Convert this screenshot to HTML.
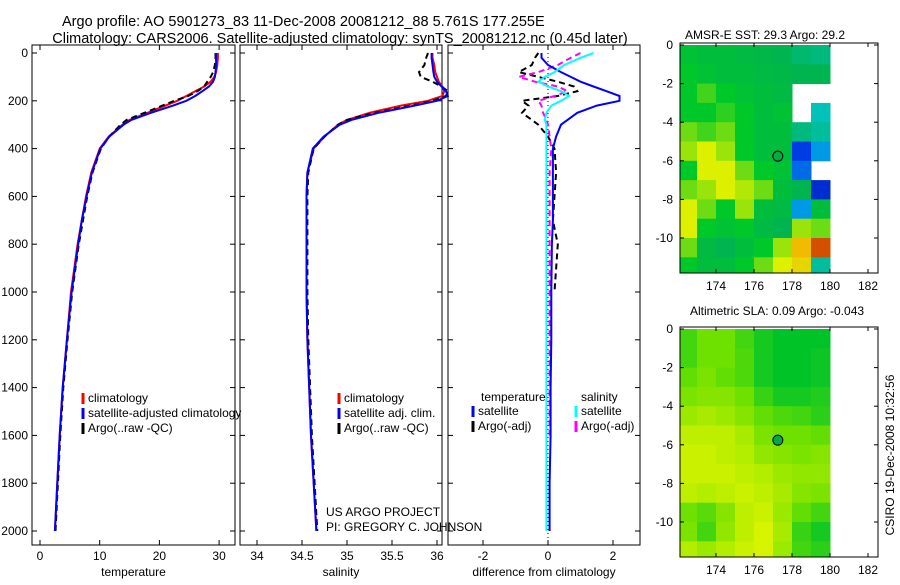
<!DOCTYPE html>
<html><head><meta charset="utf-8">
<style>
body{margin:0;background:#fff;width:900px;height:580px;overflow:hidden;font-family:"Liberation Sans",sans-serif}
svg text{font-family:"Liberation Sans",sans-serif;font-size:12px;fill:#000}
</style></head><body>
<svg id="fig" width="900" height="580" viewBox="0 0 900 580" xmlns="http://www.w3.org/2000/svg">
<text x="62" y="26" font-size="14.5" style="font-size:14.5px">Argo profile: AO 5901273_83 11-Dec-2008 20081212_88 5.761S 177.255E</text>
<text x="340" y="43" text-anchor="middle" style="font-size:14.5px">Climatology: CARS2006. Satellite-adjusted climatology: synTS_20081212.nc (0.45d later)</text>
<g id="p1"></g>
<g id="p2"></g>
<g id="p3"></g>
<g id="m1"></g>
<g id="m2"></g>
<text x="765" y="39" text-anchor="middle">AMSR-E SST: 29.3 Argo: 29.2</text>
<text x="777" y="315" text-anchor="middle">Altimetric SLA: 0.09 Argo: -0.043</text>
<text transform="translate(894,455) rotate(-90)" text-anchor="middle">CSIRO 19-Dec-2008 10:32:56</text>
<text x="326" y="516">US ARGO PROJECT</text>
<text x="326" y="531">PI: GREGORY C. JOHNSON</text>
</svg>
<script>
// depth levels (m)
const depths = [0,20,50,80,100,120,140,160,180,200,220,250,280,300,350,400,500,600,700,800,1000,1200,1400,1600,1800,2000];
const tempClim = [29.8,29.8,29.7,29.5,29.2,28.6,27.5,26.0,24.5,23.0,21.0,18.0,15.0,13.8,11.5,10.0,8.6,7.7,7.0,6.3,5.2,4.5,3.8,3.3,2.9,2.5];
const tempSat  = [29.5,29.5,29.5,29.4,29.3,29.0,28.3,27.2,26.0,24.5,22.3,18.6,15.3,14.0,11.6,10.1,8.7,7.8,7.0,6.4,5.3,4.5,3.8,3.3,2.9,2.5];
const tempArgo = [29.4,29.4,29.3,29.0,28.6,28.0,27.5,26.4,24.8,22.5,20.5,17.5,14.5,13.5,11.6,10.2,8.8,7.9,7.2,6.5,5.4,4.6,3.9,3.4,3.0,2.6];
const salClim = [35.95,35.95,35.97,35.98,36.0,36.02,36.06,36.08,36.06,35.9,35.6,35.25,35.0,34.9,34.75,34.63,34.56,34.55,34.55,34.55,34.55,34.56,34.58,34.6,34.63,34.66];
const salSat  = [35.94,35.94,35.95,35.96,35.97,36.0,36.05,36.1,36.12,36.0,35.75,35.35,35.05,34.92,34.74,34.62,34.56,34.55,34.55,34.55,34.55,34.56,34.58,34.6,34.63,34.66];
const salArgo = [35.9,35.88,35.86,35.8,35.82,35.95,36.05,36.12,36.1,35.95,35.7,35.3,35.0,34.9,34.75,34.63,34.57,34.56,34.56,34.56,34.56,34.57,34.59,34.61,34.64,34.67];
const diffTempSat  = [-0.2,-0.2,0.0,0.4,0.7,1.0,1.4,1.8,2.2,2.2,1.5,0.9,0.6,0.4,0.25,0.15,0.15,0.15,0.15,0.12,0.1,0.1,0.08,0.08,0.05,0.05];
const diffSalSat   = [1.4,1.0,0.5,0.2,-0.1,-0.3,0.0,0.4,0.65,0.4,0.1,-0.05,-0.1,-0.05,-0.05,-0.05,-0.05,-0.05,-0.05,-0.05,-0.05,-0.05,-0.05,-0.05,-0.05,-0.05];
const diffTempArgo = [-0.3,-0.4,-0.5,-0.9,-0.3,0.3,0.8,0.9,0.3,-0.8,-0.6,-0.8,-0.5,-0.3,0.0,0.2,0.25,0.2,0.15,0.3,0.2,null,null,null,null,null];
const diffSalArgo  = [1.0,0.7,0.3,-0.3,-0.9,-0.4,0.3,0.6,0.2,-0.3,-0.2,-0.15,-0.05,0.0,0.05,0.1,0.05,0.05,0.05,0.05,0.05,0.05,0.05,0.05,null,null];
const tempTicks = [0,10,20,30];
const salTicks = [34,34.5,35,35.5,36];
const diffTicks = [-2,0,2];
const depthTicks = [0,200,400,600,800,1000,1200,1400,1600,1800,2000];
const lonTicks = [174,176,178,180,182];
const latTicks = [0,-2,-4,-6,-8,-10];
// SST map cells (1 degree, rows lat 0..-12, cols lon 172..180), colormap index 0..1
const sstCells = [
[.52,.5,.5,.48,.47,.45,.43,.42],
[.55,.52,.5,.5,.48,.47,.45,.45],
[.55,.58,.55,.52,.5,.48,null,null],
[.55,.55,.57,.55,.5,.52,null,.38],
[.6,.58,.6,.55,.5,.5,.42,.4],
[.62,.65,.62,.55,.5,.5,.2,.3],
[.55,.65,.65,.6,.55,.52,.25,null],
[.6,.62,.65,.63,.6,.5,.45,.15],
[.65,.6,.55,.62,.5,.48,.3,.5],
[.65,.55,.52,.55,.48,.45,.62,.6],
[.6,.48,.45,.5,.55,.62,.75,.9],
[.55,.5,.5,.55,.6,.65,.7,.4]];
const slaCells = [
[.3,.5,.5,.3,.1,0,0,0],
[.3,.5,.5,.35,.1,0,0,.05],
[.45,.55,.45,.35,.1,0,0,.05],
[.55,.6,.6,.5,.25,.1,.1,.15],
[.7,.75,.7,.6,.45,.35,.3,.2],
[.85,.85,.85,.75,.55,.5,.5,.45],
[.9,.9,.85,.8,.65,.6,.55,.6],
[.9,.9,.9,.85,.8,.7,.65,.65],
[.85,.8,.85,.9,.85,.75,.6,.55],
[.5,.4,.6,.85,.9,.7,.45,.3],
[.55,.3,.65,.85,.95,.75,.25,.1],
[.8,.7,.8,.9,.95,.7,.3,.2]];
const floatLon = 177.255, floatLat = -5.761;

const NS='http://www.w3.org/2000/svg';
function mk(parent,tag,attrs){const e=document.createElementNS(NS,tag);for(const k in attrs)e.setAttribute(k,attrs[k]);parent.appendChild(e);return e;}
const yD = d => 53 + d*0.239;
function panel(id,x0,x1,xs,ticks,fmt,xlabel,showY){
  const g=document.getElementById(id);
  const fr=mk(g,'rect',{x:x0,y:45,width:x1-x0,height:500,fill:'none',stroke:'#000'});
  
  
  ticks.forEach(t=>{const x=xs(t);
    mk(g,'line',{x1:x,x2:x,y1:545,y2:540,stroke:'#000'});mk(g,'line',{x1:x,x2:x,y1:45,y2:50,stroke:'#000'});
    const tx=mk(g,'text',{x:x,y:560,'text-anchor':'middle'});tx.textContent=fmt(t);
    
    });
  depthTicks.forEach(d=>{const y=yD(d);
    mk(g,'line',{x1:x0,x2:x0+5,y1:y,y2:y,stroke:'#000'});mk(g,'line',{x1:x1,x2:x1-5,y1:y,y2:y,stroke:'#000'});
    if(showY){const tx=mk(g,'text',{x:x0-4,y:y+4,'text-anchor':'end'});tx.textContent=d;
    
    }});
  const xl=mk(g,'text',{x:(x0+x1)/2,y:576,'text-anchor':'middle'});xl.textContent=xlabel;
  
  
  return g;
}
function line(g,xs,vals,color,dash,name,w){
  let d='',pen=false;
  vals.forEach((v,i)=>{if(v===null){pen=false;return;}d+=(pen?'L':'M')+xs(v).toFixed(1)+','+yD(depths[i]).toFixed(1);pen=true;});
  const p=mk(g,'path',{d:d,fill:'none',stroke:color,'stroke-width':w||2,'stroke-dasharray':dash||'none'});
  
  
}
function legend(g,x,y,items){
  items.forEach((it,i)=>{const yy=y+i*15;
    mk(g,'line',{x1:x,x2:x,y1:yy-9,y2:yy+2,stroke:it[1],'stroke-width':3});
    const t=mk(g,'text',{x:x+5,y:yy});t.textContent=it[0];
    
    });
}
// panel 1
const xT=v=>40+v*5.97;
const g1=panel('p1',32,235,xT,tempTicks,t=>t,'temperature',true);
line(g1,xT,tempClim,'#f00',null,'temp-climatology-line');
line(g1,xT,tempArgo,'#000','6,4','temp-argo-line');
line(g1,xT,tempSat,'#00f',null,'temp-satellite-line');
legend(g1,83,402,[['climatology','#f00'],['satellite-adjusted climatology','#00f'],['Argo(..raw -QC)','#000']]);
// panel 2
const xS=v=>257+(v-34)*90;
const g2=panel('p2',240,442,xS,salTicks,t=>t,'salinity',false);
line(g2,xS,salClim,'#f00',null,'sal-climatology-line');
line(g2,xS,salArgo,'#000','6,4','sal-argo-line');
line(g2,xS,salSat,'#00f',null,'sal-satellite-line');
legend(g2,339,402,[['climatology','#f00'],['satellite adj. clim.','#00f'],['Argo(..raw -QC)','#000']]);
// panel 3
const xDf=v=>548+v*32.5;
const g3=panel('p3',448,640,xDf,diffTicks,t=>t,'difference from climatology',false);
mk(g3,'line',{x1:548,x2:548,y1:45,y2:545,stroke:'#000','stroke-dasharray':'1,3'});
line(g3,xDf,diffTempArgo,'#000','6,4','diff-temp-argo-line');
line(g3,xDf,diffSalArgo,'#f0f','6,4','diff-sal-argo-line');
line(g3,xDf,diffTempSat,'#00f',null,'diff-temp-satellite-line');
line(g3,xDf,diffSalSat,'#0ff',null,'diff-sal-satellite-line');
const lt=mk(g3,'text',{x:481,y:401});lt.textContent='temperature';


const ls=mk(g3,'text',{x:581,y:401});ls.textContent='salinity';


legend(g3,473,415,[['satellite','#00f'],['Argo(-adj)','#000']]);
legend(g3,576,415,[['satellite','#0ff'],['Argo(-adj)','#f0f']]);
// maps
function jet(v){
  const stops=[[0,[0,0,140]],[0.2,[0,60,230]],[0.35,[0,200,230]],[0.45,[0,180,80]],[0.55,[0,200,40]],[0.65,[220,240,0]],[0.8,[250,160,0]],[1,[170,0,0]]];
  for(let i=1;i<stops.length;i++){if(v<=stops[i][0]){const a=stops[i-1],b=stops[i],f=(v-a[0])/(b[0]-a[0]);return 'rgb('+a[1].map((c,k)=>Math.round(c+(b[1][k]-c)*f)).join(',')+')';}}
  return 'rgb(170,0,0)';
}
function slaCol(v){
  const a=[0,195,40],m=[110,225,0],b=[225,245,0];
  let s,e,f; if(v<0.5){s=a;e=m;f=v/0.5;}else{s=m;e=b;f=(v-0.5)/0.5;}
  return 'rgb('+s.map((c,k)=>Math.round(c+(e[k]-c)*f)).join(',')+')';
}
function map(id,top,bottom,y0,cells,colf){
  const g=document.getElementById(id);
  const xL=lon=>716+(lon-174)*19, yL=lat=>y0-lat*19.3;
  const cp=mk(g,'clipPath',{id:id+'clip'});mk(cp,'rect',{x:680,y:top,width:198,height:bottom-top});
  const cg=mk(g,'g',{'clip-path':'url(#'+id+'clip)'});
  cells.forEach((row,r)=>row.forEach((v,c)=>{if(v===null)return;
    const rc=mk(cg,'rect',{x:xL(172+c),y:yL(-r),width:19.5,height:19.8,fill:colf(v)});
    
    }));
  const fr=mk(g,'rect',{x:680,y:top,width:198,height:bottom-top,fill:'none',stroke:'#000'});
  
  
  lonTicks.forEach(l=>{const x=xL(l);mk(g,'line',{x1:x,x2:x,y1:bottom,y2:bottom-4,stroke:'#000'});mk(g,'line',{x1:x,x2:x,y1:top,y2:top+4,stroke:'#000'});
    const t=mk(g,'text',{x:x,y:bottom+17,'text-anchor':'middle'});t.textContent=l;
    
    });
  latTicks.forEach(l=>{const y=yL(l);mk(g,'line',{x1:680,x2:684,y1:y,y2:y,stroke:'#000'});mk(g,'line',{x1:878,x2:874,y1:y,y2:y,stroke:'#000'});
    const t=mk(g,'text',{x:673,y:y+4,'text-anchor':'end'});t.textContent=l;
    
    });
  const c=mk(g,'circle',{cx:xL(floatLon),cy:yL(floatLat),r:5,fill:'#0a4',stroke:'#000'});
  
  
}
map('m1',43,273,45,sstCells,jet);
map('m2',327,557,329,slaCells,slaCol);
</script>
</body></html>
